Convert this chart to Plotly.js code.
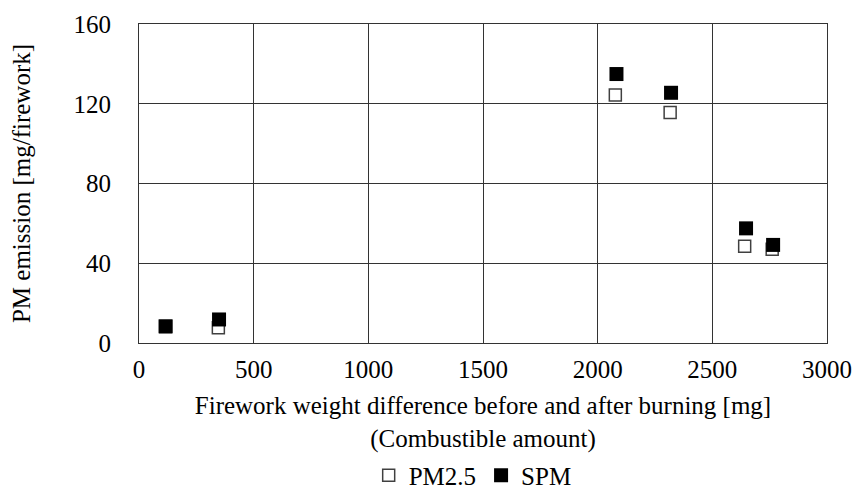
<!DOCTYPE html>
<html>
<head>
<meta charset="utf-8">
<script src="https://cdn.plot.ly/plotly-3.0.1.min.js"></script>
<style>html,body{margin:0;padding:0;background:#fff;}#chart{width:854px;height:489px;}</style>
</head>
<body>
<div id="chart"></div>
<script>
const weightPM25 = [116, 346, 2077, 2316, 2641, 2761];
const valuesPM25 = [8.2, 7.6, 124.4, 115.6, 48.5, 47.0];
const weightSPM = [116, 349, 2082, 2320, 2647, 2765];
const valuesSPM = [8.4, 11.8, 134.9, 125.5, 57.5, 49.2];
const xTicks = [0, 500, 1000, 1500, 2000, 2500, 3000];
const yTicks = [0, 40, 80, 120, 160];

const font = {family: '"Liberation Serif", "Times New Roman", serif', color: '#000'};
const fs = 25;

const traces = [
  {x: weightPM25, y: valuesPM25, name: 'PM2.5', type: 'scatter', mode: 'markers',
   marker: {symbol: 'square', size: 12, color: '#fff', line: {color: '#404040', width: 1.5}}},
  {x: weightSPM, y: valuesSPM, name: 'SPM', type: 'scatter', mode: 'markers',
   marker: {symbol: 'square', size: 14, color: '#000', line: {color: '#000', width: 0}}}
];

const layout = {
  width: 854, height: 489,
  margin: {l: 139, r: 27, t: 23.5, b: 145.5, autoexpand: false},
  paper_bgcolor: '#fff', plot_bgcolor: '#fff',
  font: Object.assign({size: fs}, font),
  showlegend: true,
  legend: {orientation: 'h', x: 0.485, xanchor: 'center', xref: 'paper',
           y: 1 - 475.5 / 489, yanchor: 'middle', yref: 'container',
           font: Object.assign({size: fs}, font), itemwidth: 30, tracegroupgap: 0},
  xaxis: {
    range: [0, 3000], tickvals: xTicks, ticktext: xTicks.map(String),
    showgrid: true, gridcolor: '#333', gridwidth: 1,
    showline: true, linecolor: '#333', linewidth: 1, mirror: true,
    zeroline: false, ticks: '', ticklabelstandoff: 4, automargin: true,
    tickfont: Object.assign({size: fs}, font),
    title: {text: 'Firework weight difference before and after burning [mg]<br>(Combustible amount)',
            font: Object.assign({size: fs}, font), standoff: 16}
  },
  yaxis: {
    range: [0, 160], tickvals: yTicks, ticktext: yTicks.map(String),
    showgrid: true, gridcolor: '#333', gridwidth: 1,
    showline: true, linecolor: '#333', linewidth: 1, mirror: true,
    zeroline: false, ticks: '', ticklabelstandoff: 22,
    tickfont: Object.assign({size: fs}, font),
    title: {text: 'PM emission [mg/firework]', font: Object.assign({size: fs}, font), standoff: 35}
  }
};

Plotly.newPlot('chart', traces, layout, {displayModeBar: false, staticPlot: true});
</script>
</body>
</html>
